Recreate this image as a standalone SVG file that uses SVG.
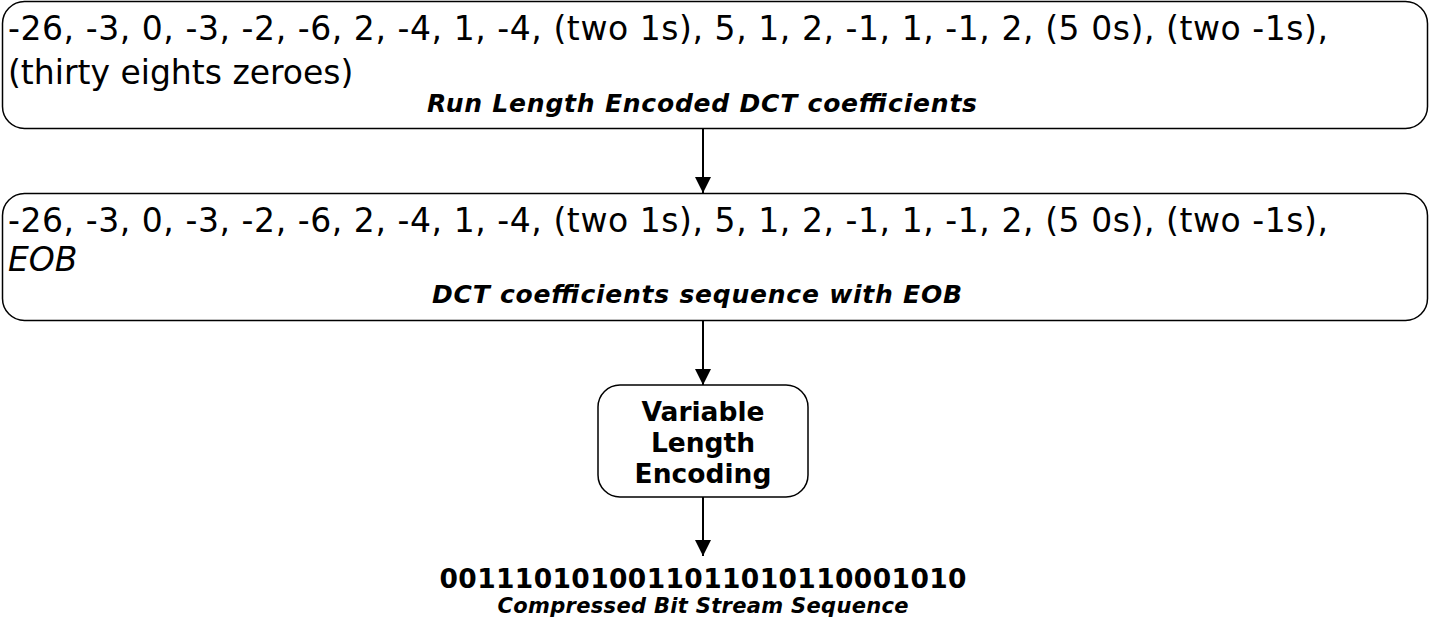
<svg xmlns="http://www.w3.org/2000/svg" width="1430" height="627" viewBox="0 0 1430 627">
  <style>
    .box { fill: #ffffff; stroke: #000000; stroke-width: 1.5; }
    .wire { stroke: #000000; stroke-width: 2; fill: none; }
    .seq { font-family: "DejaVu Sans", Verdana, sans-serif; font-size: 33px; fill: #000000; }
    .cap { font-family: "DejaVu Sans", Verdana, sans-serif; font-size: 25px; font-weight: bold; font-style: italic; fill: #000000; text-anchor: middle; }
    .blk { font-family: "DejaVu Sans", Verdana, sans-serif; font-size: 26.5px; font-weight: bold; fill: #000000; text-anchor: middle; }
    .bits { font-family: "DejaVu Sans", Verdana, sans-serif; font-size: 26.5px; font-weight: bold; fill: #000000; text-anchor: middle; }
    .sub { font-family: "DejaVu Sans", Verdana, sans-serif; font-size: 21px; font-weight: bold; font-style: italic; fill: #000000; text-anchor: middle; }
  </style>
  <defs>
    <marker id="head" viewBox="0 0 16 16" refX="16" refY="8" markerWidth="16" markerHeight="16" markerUnits="userSpaceOnUse" orient="auto">
      <path d="M0,0 L16,8 L0,16 Z" fill="#000000"/>
    </marker>
  </defs>
  <rect width="1430" height="627" fill="#ffffff"/>

  <!-- connectors -->
  <g id="connectors">
    <line class="wire" x1="703" y1="129" x2="703" y2="193" marker-end="url(#head)"/>
    <line class="wire" x1="703" y1="321" x2="703" y2="385" marker-end="url(#head)"/>
    <line class="wire" x1="703" y1="497" x2="703" y2="556" marker-end="url(#head)"/>
  </g>

  <!-- run length encoded coefficients -->
  <g id="rle">
    <rect class="box" x="2.5" y="1.5" width="1425" height="127" rx="22" ry="22"/>
    <text class="seq" x="8" y="40" textLength="1320" lengthAdjust="spacing">-26, -3, 0, -3, -2, -6, 2, -4, 1, -4, (two 1s), 5, 1, 2, -1, 1, -1, 2, (5 0s), (two -1s),</text>
    <text class="seq" x="8" y="84">(thirty eights zeroes)</text>
    <text class="cap" x="702" y="112" textLength="550" lengthAdjust="spacing">Run Length Encoded DCT coefficients</text>
  </g>

  <!-- coefficient sequence with end of block -->
  <g id="eob">
    <rect class="box" x="2.5" y="193.5" width="1425" height="127" rx="22" ry="22"/>
    <text class="seq" x="8" y="232" textLength="1320" lengthAdjust="spacing">-26, -3, 0, -3, -2, -6, 2, -4, 1, -4, (two 1s), 5, 1, 2, -1, 1, -1, 2, (5 0s), (two -1s),</text>
    <text class="seq" x="8" y="271" font-style="italic">EOB</text>
    <text class="cap" x="697" y="303" textLength="530" lengthAdjust="spacing">DCT coefficients sequence with EOB</text>
  </g>

  <!-- variable length encoder -->
  <g id="vle">
    <rect class="box" x="598" y="385" width="210" height="112" rx="22" ry="22"/>
    <text class="blk" x="703" y="421">Variable</text>
    <text class="blk" x="703" y="452">Length</text>
    <text class="blk" x="703" y="483">Encoding</text>
  </g>

  <!-- output bit stream -->
  <g id="bitstream">
    <text class="bits" x="703" y="588" textLength="527" lengthAdjust="spacing">0011101010011011010110001010</text>
    <text class="sub" x="703" y="613" textLength="411" lengthAdjust="spacing">Compressed Bit Stream Sequence</text>
  </g>
</svg>
